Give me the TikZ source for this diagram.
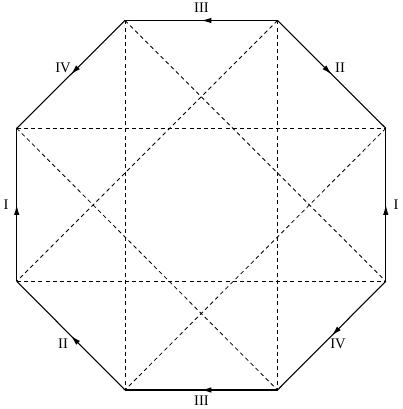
\documentclass[tikz,border=0pt]{standalone}
\usepackage{fontspec}
\setmainfont{Liberation Serif}
\usetikzlibrary{decorations.markings,arrows.meta}
\tikzset{
  edgeline/.style={line width=0.8pt,postaction={decorate},
    decoration={markings,mark=at position 0.5 with {\arrow{Latex[length=7.5pt,width=4pt]}}}},
  dashline/.style={dash pattern=on 3pt off 2.4pt,line width=0.6pt,black},
  lab/.style={font=\fontsize{11}{13}\selectfont,inner sep=0pt}
}
\begin{document}
\begin{tikzpicture}[x=0.75pt,y=-0.75pt]
\useasboundingbox (0,0) rectangle (402,409);
\coordinate (A) at (125,20.5);
\coordinate (B) at (277.5,20.5);
\coordinate (C) at (385.8,128.3);
\coordinate (D) at (385.8,281.3);
\coordinate (E) at (277.5,390);
\coordinate (F) at (125,390);
\coordinate (G) at (16.7,281.3);
\coordinate (H) at (16.7,128.3);
% dashed lines
\draw[dashline] (A) -- (F);
\draw[dashline] (B) -- (E);
\draw[dashline] (H) -- (C);
\draw[dashline] (G) -- (D);
\draw[dashline] (A) -- (D);
\draw[dashline] (H) -- (E);
\draw[dashline] (B) -- (G);
\draw[dashline] (C) -- (F);
% edges
\draw[edgeline] (B) -- (A);
\draw[edgeline] (A) -- (H);
\draw[edgeline] (G) -- (H);
\draw[edgeline] (F) -- (G);
\draw[edgeline] (E) -- (F);
\draw[edgeline] (D) -- (E);
\draw[edgeline] (D) -- (C);
\draw[edgeline] (B) -- (C);
% labels
\node[lab] (l1) at (201.5,8) {III};
\node[lab] (l2) at (201.5,401) {III};
\node[lab] (l3) at (6,205) {I};
\node[lab] (l4) at (396,205) {I};
\node[lab] (l5) at (63,68) {IV};
\node[lab] (l6) at (340,68) {II};
\node[lab] (l7) at (63,344) {II};
\node[lab] (l8) at (338,344) {IV};
\end{tikzpicture}
\end{document}
